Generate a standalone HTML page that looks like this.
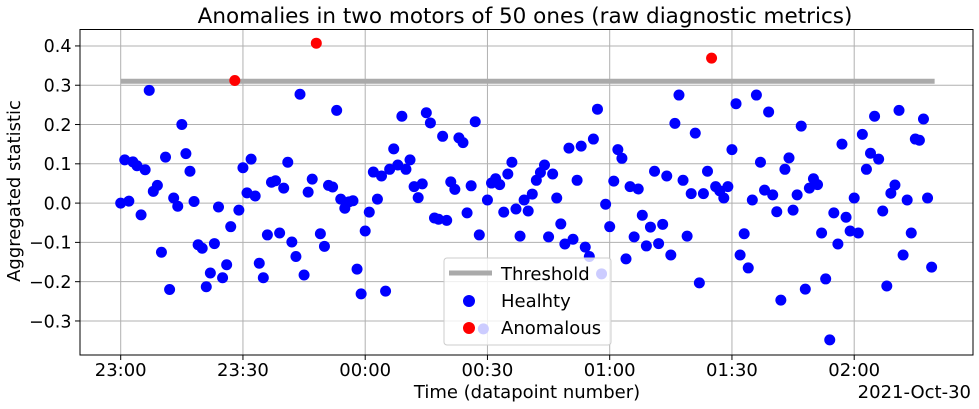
<!DOCTYPE html>
<html><head><meta charset="utf-8">
<style>
html,body{margin:0;padding:0;background:#fff;}
svg{display:block;font-family:"DejaVu Sans","Liberation Sans",sans-serif;}
</style></head>
<body>
<svg id="chart" width="979" height="409" viewBox="0 0 979 409" xmlns="http://www.w3.org/2000/svg">
<text x="525" y="23" font-size="21.5" text-anchor="middle" fill="#000">Anomalies in two motors of 50 ones (raw diagnostic metrics)</text>
<g id="grid"></g>
<g id="thr"></g>
<g id="pts"></g>
<rect x="80" y="29.5" width="893" height="325.5" fill="none" stroke="#000" stroke-width="1"/>
<g id="ticks"></g>
<text transform="translate(20,191) rotate(-90)" font-size="18" text-anchor="middle">Aggregated statistic</text>
<text x="527" y="398" font-size="18" text-anchor="middle">Time (datapoint number)</text>
<text x="971" y="398" font-size="18" text-anchor="end">2021-Oct-30</text>
<g>
<rect x="444" y="258" width="167" height="87" rx="3" fill="#fff" fill-opacity="0.8" stroke="#ccc"/>
<line x1="449" y1="273" x2="492" y2="273" stroke="#aaa" stroke-width="5"/>
<text x="501" y="280" font-size="18">Threshold</text>
<circle cx="469" cy="301" r="6" fill="#0000ff"/>
<text x="501" y="307" font-size="18">Healhty</text>
<circle cx="469" cy="328" r="6" fill="#ff0000"/>
<text x="501" y="334" font-size="18">Anomalous</text>
</g>
</svg>
<script>
const values = [0.00,0.11,0.005,0.105,0.095,-0.03,0.085,0.287,0.03,0.045,-0.125,0.117,-0.22,0.013,-0.008,0.20,0.126,0.081,0.004,-0.106,-0.115,-0.213,-0.178,-0.103,-0.01,-0.19,-0.157,-0.06,0.312,-0.018,0.09,
0.026,0.112,0.018,-0.153,-0.19,-0.081,0.053,0.057,-0.076,0.038,0.104,-0.099,-0.136,0.277,-0.183,0.028,0.061,0.407,-0.078,-0.11,0.045,0.041,0.236,0.01,-0.013,0.003,0.006,-0.168,-0.231,
-0.071,-0.023,0.079,0.01,0.069,-0.224,0.086,0.138,0.097,0.221,0.086,0.11,0.042,0.014,0.049,0.23,0.204,-0.038,-0.041,0.17,-0.044,0.054,0.035,0.166,0.154,-0.025,0.044,0.207,-0.081,-0.32,0.008,
0.051,0.062,0.047,-0.023,0.074,0.104,-0.015,-0.084,0.008,-0.02,0.023,0.058,0.078,0.097,-0.086,0.074,0.013,-0.053,-0.104,0.14,-0.092,0.058,0.145,-0.112,-0.136,0.163,0.239,-0.18,-0.003,-0.06,
0.056,0.136,0.114,-0.142,0.042,-0.086,0.036,-0.031,-0.109,-0.061,0.081,-0.103,-0.054,0.069,-0.132,0.203,0.275,0.058,-0.084,0.024,0.178,-0.203,0.024,0.081,0.369,0.042,0.031,0.013,0.042,0.136,0.253,
-0.132,-0.078,-0.165,0.008,0.275,0.104,0.033,0.232,0.021,-0.022,-0.247,0.086,0.115,-0.018,0.021,0.196,-0.219,0.038,0.062,0.047,-0.076,-0.193,-0.348,-0.025,-0.104,0.15,-0.036,-0.071,0.013,-0.076,
0.175,0.086,0.127,0.221,0.112,-0.02,-0.211,0.025,0.046,0.236,-0.132,0.008,-0.076,0.163,0.16,0.214,0.013,-0.163];
const anomalyIdx = [28,48,145];
const threshold = 0.31;
const xTickMinutes = [0,30,60,90,120,150,180];
const xTickLabels = ["23:00","23:30","00:00","00:30","01:00","01:30","02:00"];
const yTicks = [0.4,0.3,0.2,0.1,0.0,-0.1,-0.2,-0.3];
const yTickLabels = ["0.4","0.3","0.2","0.1","0.0","\u22120.1","\u22120.2","\u22120.3"];

const NS="http://www.w3.org/2000/svg";
const L=80, R=973, T=29.5, B=355;
const xs = m => 120.7 + m*4.075;
const ys = v => 203.1 - v*392.9;
const minuteOf = i => i;
function mk(tag, attrs, parent){const e=document.createElementNS(NS,tag);for(const k in attrs)e.setAttribute(k,attrs[k]);parent.appendChild(e);return e;}
const grid=document.getElementById('grid'), ticks=document.getElementById('ticks'), pts=document.getElementById('pts'), thr=document.getElementById('thr');
xTickMinutes.forEach((m,k)=>{
  const x=xs(m);
  const g=mk('line',{x1:x,y1:T,x2:x,y2:B,stroke:'#b0b0b0','stroke-width':1},grid);
  
  
  const t=mk('line',{x1:x,y1:B,x2:x,y2:B+5,stroke:'#000'},ticks);
  
  
  const l=mk('text',{x:x,y:376,'font-size':18,'text-anchor':'middle'},ticks);
  l.textContent=xTickLabels[k];
  
  
});
yTicks.forEach((v,k)=>{
  const y=ys(v);
  const g=mk('line',{x1:L,y1:y,x2:R,y2:y,stroke:'#b0b0b0','stroke-width':1},grid);
  
  
  const t=mk('line',{x1:L-5,y1:y,x2:L,y2:y,stroke:'#000'},ticks);
  
  
  const l=mk('text',{x:71.5,y:y+6.3,'font-size':17.5,'text-anchor':'end'},ticks);
  l.textContent=yTickLabels[k];
  
  
});
const tl=mk('line',{x1:xs(0),y1:ys(threshold),x2:xs(values.length-1)+3,y2:ys(threshold),stroke:'#aaa','stroke-width':5},thr);


values.forEach((v,i)=>{
  if(anomalyIdx.includes(i)) return;
  const c=mk('circle',{cx:xs(minuteOf(i)),cy:ys(v),r:5.5,fill:'#0000ff'},pts);
  
  
});
anomalyIdx.forEach(i=>{
  const c=mk('circle',{cx:xs(minuteOf(i)),cy:ys(values[i]),r:5.5,fill:'#ff0000'},pts);
  
  
});
</script>
</body></html>
